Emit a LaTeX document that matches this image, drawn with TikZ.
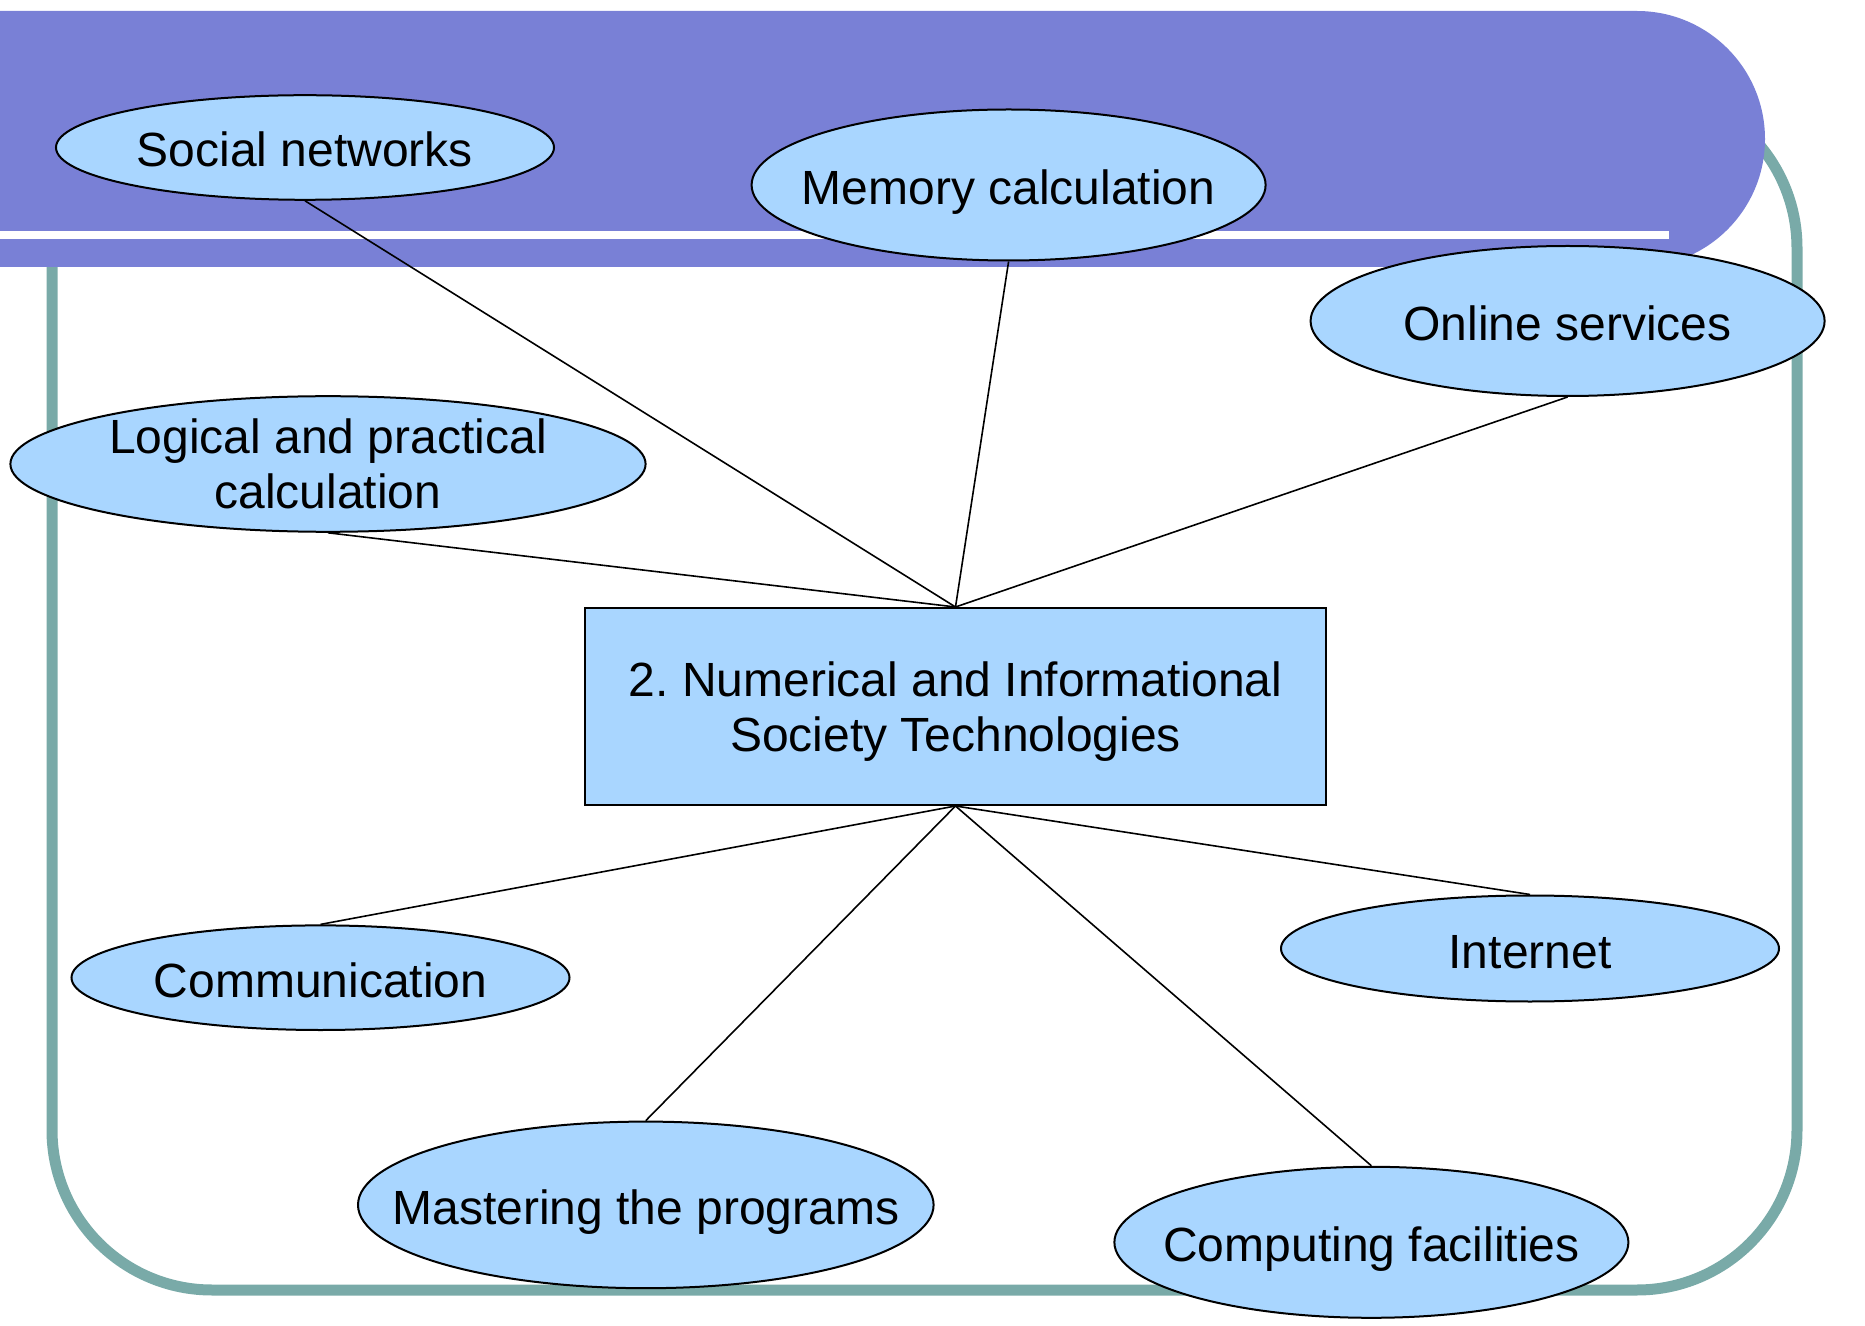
\documentclass[tikz,border=0pt]{standalone}
\usepackage{fontspec}
\setmainfont{Liberation Sans}
\usetikzlibrary{shapes.geometric}
\definecolor{bandpurple}{RGB}{121,128,214}
\definecolor{frameteal}{RGB}{121,170,168}
\definecolor{bubble}{RGB}{169,214,255}
% two centred lines, lowered slightly inside their node
\newcommand{\twolines}[2]{\raisebox{-3pt}[\height][\depth]{\begin{tabular}{@{}c@{}}#1\\#2\end{tabular}}}
\frenchspacing
\begin{document}
\begin{tikzpicture}[x=0.5pt,y=-0.5pt,
  every node/.style={font=\fontsize{24pt}{27.5pt}\selectfont},
  bubble/.style={ellipse,draw=black,line width=1pt,fill=bubble,
    inner xsep=-300pt,inner ysep=-30pt},
  oneline/.style={text height=20pt,text depth=0.5pt},
  topic/.style={rectangle,draw=black,line width=1pt,fill=bubble,
    minimum width=370.5pt,minimum height=98.5pt,inner sep=0pt},
  link/.style={line width=0.8pt,black}]
\useasboundingbox (0,0) rectangle (1865,1326);

% outer frame
\draw[frameteal,line width=5.5pt,rounded corners=80pt] (52,88) rectangle (1797,1290);

% title band with rounded right end
\fill[bandpurple] (0,11) -- (1637,11) arc[start angle=90,end angle=-90,radius=64pt] -- (0,267) -- cycle;
\fill[white] (0,231) rectangle (1669,239);

% nodes
\node[topic] (core) at (955.5,706.5) {\twolines{2. Numerical and Informational}{Society Technologies}};
\node[bubble,oneline,minimum width=249pt,minimum height=52.3pt] (social) at (305,147.5) {Social networks};
\node[bubble,oneline,minimum width=257pt,minimum height=75.5pt] (memory) at (1008.6,185) {Memory calculation};
\node[bubble,oneline,minimum width=257pt,minimum height=75pt] (online) at (1567.6,321) {Online services};
\node[bubble,minimum width=317.6pt,minimum height=67.8pt] (logic) at (328,464) {\twolines{Logical and practical}{calculation}};
\node[bubble,oneline,minimum width=249pt,minimum height=52.3pt] (comm) at (320.5,977.7) {Communication};
\node[bubble,oneline,minimum width=249pt,minimum height=53pt] (internet) at (1530,948.5) {Internet};
\node[bubble,oneline,minimum width=287.8pt,minimum height=83.3pt] (master) at (645.8,1204.9) {Mastering the programs};
\node[bubble,oneline,minimum width=257pt,minimum height=75.5pt] (compute) at (1371.4,1242.3) {Computing facilities};

% connectors from the central box to every topic
\draw[link] (core.north) -- (social.south);
\draw[link] (core.north) -- (memory.south);
\draw[link] (core.north) -- (online.south);
\draw[link] (core.north) -- (logic.south);
\draw[link] (core.south) -- (comm.north);
\draw[link] (core.south) -- (master.north);
\draw[link] (core.south) -- (compute.north);
\draw[link] (core.south) -- (internet.north);
\end{tikzpicture}
\end{document}
